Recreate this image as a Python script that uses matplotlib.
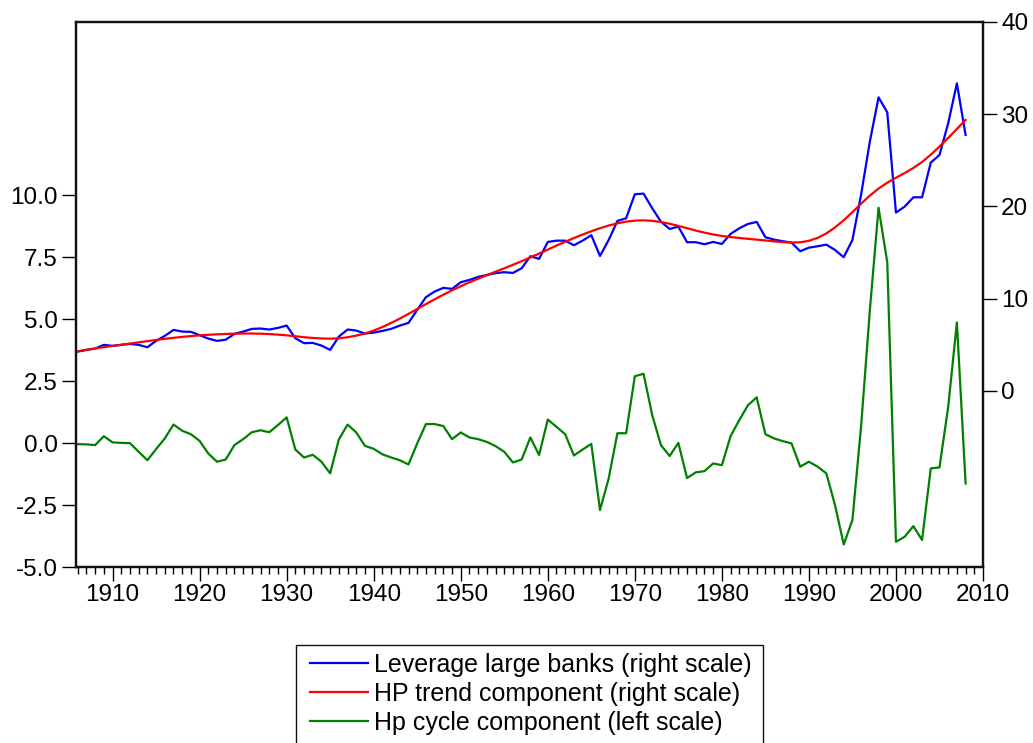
import numpy as np
import matplotlib
matplotlib.use("Agg")
import matplotlib.pyplot as plt
from matplotlib.patches import Rectangle
from matplotlib.ticker import MultipleLocator

plt.rcParams['font.family'] = ['Liberation Sans', 'DejaVu Sans']

# 年次データ 1906-2008
years = np.arange(1906, 2009)

# レバレッジ（大手銀行、右軸）
leverage = [
    4.26, 4.44, 4.59, 4.99, 4.88, 4.99, 5.09, 4.99, 4.73, 5.42,
    5.96, 6.61, 6.43, 6.40, 6.04, 5.67, 5.42, 5.55, 6.18, 6.43,
    6.72, 6.76, 6.65, 6.83, 7.08, 5.71, 5.17, 5.20, 4.91, 4.44,
    5.89, 6.65, 6.54, 6.21, 6.32, 6.50, 6.72, 7.08, 7.37, 8.78,
    10.16, 10.77, 11.17, 11.06, 11.78, 12.03, 12.36, 12.57, 12.76, 12.87,
    12.79, 13.30, 14.60, 14.31, 16.15, 16.29, 16.29, 15.79, 16.29, 16.88,
    14.63, 16.37, 18.43, 18.72, 21.32, 21.39, 19.80, 18.35, 17.56, 17.81,
    16.12, 16.12, 15.90, 16.15, 15.93, 17.02, 17.63, 18.10, 18.32, 16.66,
    16.40, 16.23, 16.08, 15.14, 15.53, 15.68, 15.86, 15.28, 14.49, 16.37,
    21.30, 27.03, 31.83, 30.21, 19.33, 19.98, 20.99, 20.99, 24.75, 25.58,
    29.02, 33.35, 27.75,
]

# HPトレンド（右軸）
trend = [
    4.30, 4.45, 4.60, 4.74, 4.87, 5.00, 5.13, 5.26, 5.39, 5.52,
    5.64, 5.75, 5.85, 5.94, 6.02, 6.08, 6.13, 6.17, 6.20, 6.22,
    6.22, 6.20, 6.16, 6.10, 6.02, 5.92, 5.82, 5.74, 5.68, 5.66,
    5.70, 5.81, 5.99, 6.23, 6.54, 6.92, 7.36, 7.84, 8.35, 8.88,
    9.41, 9.93, 10.43, 10.90, 11.35, 11.77, 12.17, 12.55, 12.92, 13.29,
    13.67, 14.06, 14.47, 14.89, 15.32, 15.75, 16.17, 16.57, 16.95, 17.31,
    17.64, 17.93, 18.17, 18.35, 18.46, 18.49, 18.44, 18.31, 18.12, 17.89,
    17.64, 17.39, 17.16, 16.96, 16.80, 16.68, 16.58, 16.49, 16.40, 16.31,
    16.21, 16.13, 16.08, 16.11, 16.27, 16.59, 17.07, 17.72, 18.50, 19.38,
    20.30, 21.17, 21.94, 22.57, 23.11, 23.62, 24.17, 24.82, 25.61, 26.49,
    27.43, 28.40, 29.38,
]

# HPサイクル（左軸）
cycle = [
    -0.04, -0.05, -0.08, 0.28, 0.03, 0.01, 0.00, -0.35, -0.69, -0.24,
    0.19, 0.75, 0.50, 0.36, 0.09, -0.42, -0.75, -0.66, -0.08, 0.16,
    0.44, 0.52, 0.44, 0.73, 1.04, -0.26, -0.58, -0.47, -0.75, -1.22,
    0.15, 0.75, 0.43, -0.11, -0.23, -0.45, -0.58, -0.69, -0.86, -0.01,
    0.77, 0.77, 0.69, 0.16, 0.43, 0.23, 0.16, 0.05, -0.12, -0.35,
    -0.78, -0.66, 0.23, -0.48, 0.95, 0.66, 0.36, -0.50, -0.26, -0.03,
    -2.70, -1.42, 0.40, 0.40, 2.70, 2.80, 1.13, -0.08, -0.52, 0.01,
    -1.41, -1.18, -1.13, -0.82, -0.89, 0.28, 0.93, 1.53, 1.85, 0.36,
    0.19, 0.08, -0.01, -0.95, -0.75, -0.95, -1.22, -2.50, -4.09, -3.10,
    0.70, 5.36, 9.50, 7.31, -3.98, -3.78, -3.35, -3.91, -1.02, -0.98,
    1.46, 4.87, -1.63,
]

left_ticks = [-5.0, -2.5, 0.0, 2.5, 5.0, 7.5, 10.0]
right_ticks = [0, 10, 20, 30, 40]
labels = ["Leverage large banks (right scale)",
          "HP trend component (right scale)",
          "Hp cycle component (left scale)"]

fig = plt.figure(figsize=(10.33, 7.43), dpi=100)
ax = fig.add_axes([76 / 1033, 1 - 567 / 743, 907 / 1033, 545 / 743])
ax2 = ax.twinx()

# 線を描く
l3, = ax.plot(years, cycle, color='#008000', lw=1.6)
l1, = ax2.plot(years, leverage, color='#0000ff', lw=1.6)
l2, = ax2.plot(years, trend, color='#ff0000', lw=1.6)

ax.set_xlim(1905.8, 2010)
ax.set_ylim(-5.0, 17.0)
ax2.set_ylim(-19.1, 40)

ax.set_yticks(left_ticks)
ax.set_yticklabels(["%.1f" % v for v in left_ticks])
ax2.set_yticks(right_ticks)
ax.xaxis.set_major_locator(MultipleLocator(10))
ax.xaxis.set_minor_locator(MultipleLocator(1))

for a in (ax, ax2):
    for s in a.spines.values():
        s.set_linewidth(1.6)
        s.set_color('#111111')
ax.tick_params(axis='y', direction='out', length=10, width=1.0, labelsize=17.5, pad=3)
ax2.tick_params(axis='y', direction='out', length=10, width=1.0, labelsize=17.5, pad=3)
ax.tick_params(axis='x', which='major', direction='out', length=10, width=1.0,
               labelsize=17.5, pad=2)
ax.tick_params(axis='x', which='minor', direction='out', length=5, width=1.0)

# 凡例（枠は下にはみ出す）
fig.patches.append(Rectangle((296 / 1033, -0.05), (763 - 296) / 1033,
                             1 - 645 / 743 + 0.05, transform=fig.transFigure,
                             fill=False, edgecolor='#111111', lw=1.0))
fig.legend([l1, l2, l3], labels, loc='upper left',
           bbox_to_anchor=(305 / 1033, 1 - 648 / 743), frameon=False,
           fontsize=18, handlelength=2.3, handletextpad=0.25,
           borderpad=0.2, borderaxespad=0, labelspacing=0.2)

fig.savefig("out.png", dpi=100)
